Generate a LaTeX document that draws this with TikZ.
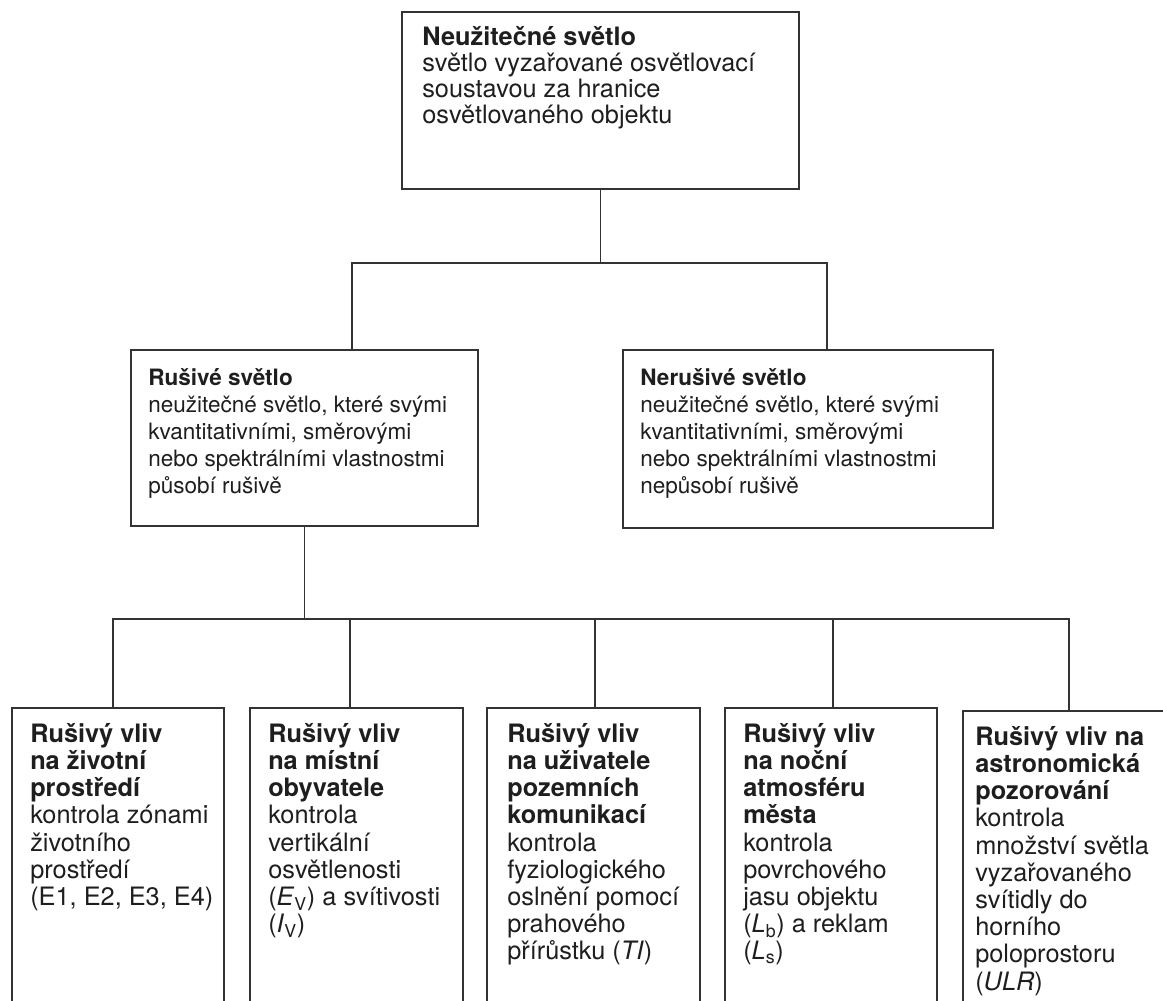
\documentclass[tikz,border=0pt]{standalone}
\usepackage{fontspec}
\setmainfont{TeX Gyre Heros}
\definecolor{ink}{HTML}{1E1E1E}
\definecolor{rule}{HTML}{333333}
\begin{document}
\begin{tikzpicture}[x=0.75pt,y=-0.75pt,
  boxn/.style n args={2}{draw=rule, line width=1.1pt, rectangle, anchor=north west, inner sep=0pt, outer sep=0pt, minimum width=#1*0.75pt, minimum height=#2*0.75pt},
  txt/.style={anchor=north west, inner sep=0pt, align=left, text=ink},
  toptxt/.style={txt, font=\fontsize{19}{19.6}\selectfont},
  midtxt/.style={txt, font=\fontsize{16.9}{20.2}\selectfont},
  bottxt/.style={txt, font=\fontsize{19}{20.4}\selectfont},
  conn/.style={draw=rule, line width=1.1pt}
]
\useasboundingbox (0,0) rectangle (1163,1000);
\fill[white] (0,0) rectangle (1163,1000);
\begin{scope}
\clip (0,0) rectangle (1163,1000);
% boxes
\node[boxn={397}{177}] (top) at (402,12) {};
\node[boxn={347}{176}] (rl) at (131,350) {};
\node[boxn={370}{178}] (nr) at (623,350) {};
\node[boxn={212}{330}] (b1) at (12,708) {};
\node[boxn={213}{330}] (b2) at (250,708) {};
\node[boxn={213}{330}] (b3) at (487,708) {};
\node[boxn={212}{330}] (b4) at (725,708) {};
\node[boxn={213}{330}] (b5) at (963,711) {};
% texts
\node[toptxt] (ttop) at (422,21) {\rule{0pt}{18pt}\textbf{Neužitečné světlo}\\světlo vyzařované osvětlovací\\soustavou za hranice\\osvětlovaného objektu};
\node[midtxt] (trl) at (148,363.7) {\rule{0pt}{16pt}\textbf{Rušivé světlo}\\neužitečné světlo, které svými\\kvantitativními, směrovými\\nebo spektrálními vlastnostmi\\působí rušivě};
\node[midtxt] (tnr) at (640,363.7) {\rule{0pt}{16pt}\textbf{Nerušivé světlo}\\neužitečné světlo, které svými\\kvantitativními, směrovými\\nebo spektrálními vlastnostmi\\nepůsobí rušivě};
\node[bottxt] (tb1) at (30,718) {\rule{0pt}{18pt}\textbf{Rušivý vliv}\\\textbf{na životní}\\\textbf{prostředí}\\kontrola zónami\\životního\\prostředí\\(E1, E2, E3, E4)};
\node[bottxt] (tb2) at (268,718) {\rule{0pt}{18pt}\textbf{Rušivý vliv}\\\textbf{na místní}\\\textbf{obyvatele}\\kontrola\\vertikální\\osvětlenosti\\(\textit{E}\textsubscript{V}) a svítivosti\\(\textit{I}\textsubscript{V})};
\node[bottxt] (tb3) at (507,718) {\rule{0pt}{18pt}\textbf{Rušivý vliv}\\\textbf{na uživatele}\\\textbf{pozemních}\\\textbf{komunikací}\\kontrola\\fyziologického\\oslnění pomocí\\prahového\\přírůstku (\textit{TI})};
\node[bottxt] (tb4) at (743,718) {\rule{0pt}{18pt}\textbf{Rušivý vliv}\\\textbf{na noční}\\\textbf{atmosféru}\\\textbf{města}\\kontrola\\povrchového\\jasu objektu\\(\textit{L}\textsubscript{b}) a reklam\\(\textit{L}\textsubscript{s})};
\node[bottxt] (tb5) at (975,721) {\rule{0pt}{18pt}\textbf{Rušivý vliv na}\\\textbf{astronomická}\\\textbf{pozorování}\\kontrola\\množství světla\\vyzařovaného\\svítidly do\\horního\\poloprostoru\\(\textit{ULR})};
% connectors
\coordinate (h1l) at (352,263);
\coordinate (h1r) at (827,263);
\coordinate (h2l) at (113,619);
\coordinate (h2r) at (1069,619);
\draw[conn] (top.south) -- (top.south |- h1l);
\draw[conn] (rl.north -| h1l) -- (h1l) -- (h1r) -- (nr.north -| h1r);
\draw[conn] (rl.south) -- (rl.south |- h2l);
\draw[conn] (b1.north -| h2l) -- (h2l) -- (h2r) -- (b5.north -| h2r);
\draw[conn] ([xshift=-4.9pt]b2.north) -- ([xshift=-4.9pt]b2.north |- h2l);
\draw[conn] ([xshift=1.1pt]b3.north) -- ([xshift=1.1pt]b3.north |- h2l);
\draw[conn] ([xshift=1.5pt]b4.north) -- ([xshift=1.5pt]b4.north |- h2l);
\end{scope}
\end{tikzpicture}
\end{document}
